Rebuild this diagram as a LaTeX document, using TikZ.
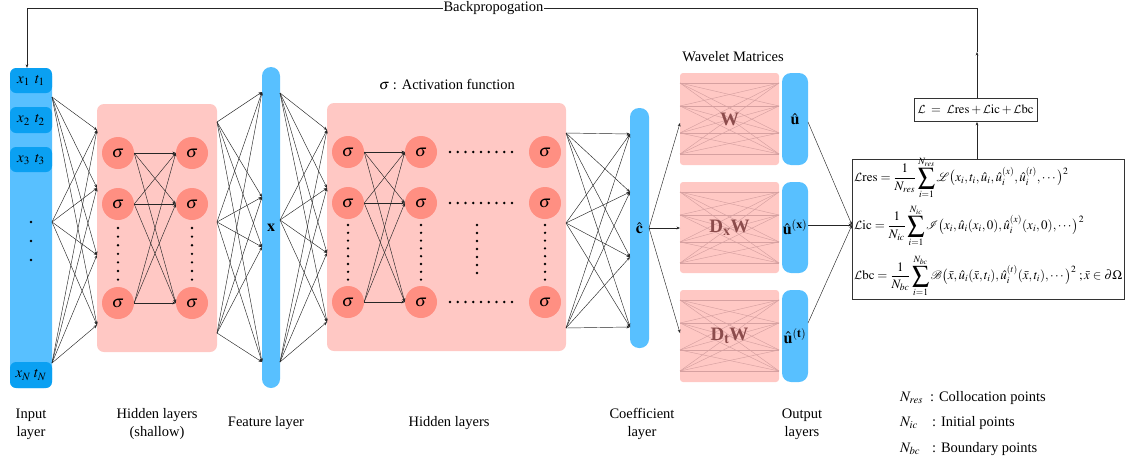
\documentclass[tikz,border=0pt]{standalone}
\usepackage{amsmath,amssymb}
\usepackage{mathptmx}
\usepackage{mathrsfs}
\usepackage[no-math]{fontspec}
\setmainfont{Liberation Serif}
\DeclareMathAlphabet{\mathcalcm}{OMS}{cmsy}{m}{n}
\newcommand{\bigsumlim}[1]{\mathop{\vcenter{\hbox{\scalebox{1.3}{$\displaystyle\sum$}}}}\limits_{i=1}^{#1}}
\usetikzlibrary{arrows.meta}
\definecolor{barblue}{RGB}{88,192,255}
\definecolor{darkblue}{RGB}{10,160,242}
\definecolor{pinkbg}{RGB}{255,200,196}
\definecolor{neuronc}{RGB}{255,143,130}
\definecolor{wtext}{RGB}{140,76,76}
\definecolor{wline}{RGB}{214,160,160}
\tikzset{
  bar/.style={fill=barblue, draw=none, rounded corners=8pt, inner sep=0pt},
  inbox/.style={fill=darkblue, draw=none, rounded corners=6pt, inner sep=0pt, font=\fontsize{15}{15}\selectfont},
  pinkbox/.style={fill=pinkbg, draw=none, rounded corners=7pt, inner sep=0pt},
  neuron/.style={circle, fill=neuronc, draw=none, minimum size=32pt, inner sep=0pt, font=\fontsize{17}{17}\selectfont},
  conn/.style={draw=black!85, line width=0.45pt, -{Stealth[length=3.5pt,width=2.8pt]}},
  plainline/.style={draw=black!85, line width=0.45pt},
  patline/.style={draw=wline, line width=0.45pt},
  lbl/.style={font=\fontsize{14.5}{18}\selectfont, align=center, inner sep=0pt},
  wlbl/.style={text=wtext, font=\fontsize{19}{19}\selectfont\bfseries, inner sep=0pt},
  olbl/.style={font=\fontsize{16}{16}\selectfont, inner sep=0pt},
  eqn/.style={anchor=west, inner sep=0pt, font=\fontsize{13}{15}\selectfont},
  lossbox/.style={draw=black!80, line width=0.9pt, inner sep=0pt},
  legtext/.style={anchor=west, inner sep=0pt, font=\fontsize{14.5}{16}\selectfont},
}
\begin{document}
\begin{tikzpicture}[x=1pt,y=-1pt]
\useasboundingbox (0,0) rectangle (1126,466);

% ---------------- Input layer
\node[bar, minimum width=42pt, minimum height=320pt] (inp) at (31,228) {};
\node[inbox, minimum width=42pt, minimum height=25pt] (in1) at (31,80.5) {$x_1\;\,t_1$};
\node[inbox, minimum width=42pt, minimum height=26pt] (in2) at (31,120) {$x_2\;\,t_2$};
\node[inbox, minimum width=42pt, minimum height=25pt] (in3) at (31,159.5) {$x_3\;\,t_3$};
\node[inbox, minimum width=42pt, minimum height=26pt] (inN) at (31,375) {$x_N\;t_N$};
\foreach \yy in {222,241,260} \fill (31,\yy) circle (1.4pt);

% ---------------- shallow hidden
\node[pinkbox, minimum width=120pt, minimum height=248pt] (sh) at (157,228) {};
\foreach \r/\yy in {1/153,2/204,3/303}{
  \node[neuron] (sa\r) at (118,\yy) {$\sigma$};
  \node[neuron] (sb\r) at (192,\yy) {$\sigma$};
}
\foreach \xx in {118,192}{
  \foreach \k in {0,...,6} \fill (\xx,228+\k*8.6) circle (1.3pt);
}
\foreach \i in {1,2,3}{\foreach \j in {1,2,3}{
  \draw[conn] (sa\i.east) -- (sb\j.west);
}}

% ---------------- feature layer
\node[bar, minimum width=18pt, minimum height=321pt, rounded corners=9pt] (feat) at (271,227.5) {};
\node[olbl] at (feat.center) {$\mathbf{x}$};

% ---------------- big hidden
\node[pinkbox, minimum width=239pt, minimum height=248pt] (hb) at (446.5,227) {};
\foreach \r/\yy in {1/152,2/203,3/302}{
  \node[neuron] (ha\r) at (348,\yy) {$\sigma$};
  \node[neuron] (hc\r) at (421,\yy) {$\sigma$};
  \node[neuron] (hd\r) at (545,\yy) {$\sigma$};
  \foreach \k in {0,...,8} \fill (450+\k*7.75,\yy) circle (1.3pt);
}
\foreach \xx in {348,421,545}{
  \foreach \k in {0,...,7} \fill (\xx,225+\k*7.8) circle (1.3pt);
}
\foreach \k in {0,...,6} \fill (477,225+\k*8) circle (1.3pt);
\foreach \i in {1,2,3}{\foreach \j in {1,2,3}{
  \draw[conn] (ha\i.east) -- (hc\j.west);
}}
\node[lbl] (actlbl) at (447,85) {$\sigma$ : Activation function};

% ---------------- coefficient layer
\node[bar, minimum width=19pt, minimum height=240pt, rounded corners=9pt] (coef) at (639.5,228) {};
\node[olbl] at (coef.center) {$\hat{\mathbf{c}}$};

% ---------------- wavelet matrices + output
\foreach \n/\t/\h in {1/73/92,2/182/91,3/290/92}{
  \node[fill=pinkbg, rounded corners=3pt, inner sep=0pt, minimum width=99pt, minimum height=\h pt] (w\n) at (729.5,\t+\h/2) {};
  \foreach \a in {10,33,60,81}{\foreach \b in {10,33,60,81}{
    \draw[patline] (680,\t+\a) -- (779,\t+\b);
  }}
  \node[bar, minimum width=26pt, minimum height=\h pt, rounded corners=9pt] (o\n) at (795,\t+\h/2) {};
}
\node[wlbl] at (w1.center) {W};
\node[wlbl] at (w2.center) {D$_{\mathbf{x}}$W};
\node[wlbl] at (w3.center) {D$_{\mathbf{t}}$W};
\node[olbl] at (o1.center) {$\hat{\mathbf{u}}$};
\node[olbl] at (o2.center) {$\hat{\mathbf{u}}^{(\mathbf{x})}$};
\node[olbl] at (o3.center) {$\hat{\mathbf{u}}^{(\mathbf{t})}$};
\node[lbl] (wavlbl) at (733,57) {Wavelet Matrices};

% ---------------- connection coordinates
\coordinate (i1) at (52,97);  \coordinate (i2) at (52,222); \coordinate (i3) at (52,363);
\foreach \k/\yy in {1/130,2/188,3/255,4/325} \coordinate (s\k) at (97,\yy);
\coordinate (so1) at (217,122); \coordinate (so2) at (217,222); \coordinate (so3) at (217,333);
\foreach \k/\yy in {1/92,2/197,3/247,4/362} \coordinate (f\k) at (262,\yy);
\coordinate (fo1) at (280,93); \coordinate (fo2) at (280,220); \coordinate (fo3) at (280,362);
\foreach \k/\yy in {1/130,2/188,3/253,4/322} \coordinate (h\k) at (327,\yy);
\coordinate (ho1) at (566,133); \coordinate (ho2) at (566,223); \coordinate (ho3) at (566,328);
\foreach \k/\yy in {1/134,2/192,3/257,4/327} \coordinate (c\k) at (630,\yy);
\coordinate (co) at (649,228);
\coordinate (wi1) at (680,123); \coordinate (wi2) at (680,228); \coordinate (wi3) at (680,333);
\coordinate (oo1) at (808,122); \coordinate (oo2) at (808,225); \coordinate (oo3) at (808,323);

\foreach \i in {1,2,3}{\foreach \j in {1,2,3,4}{
  \draw[conn] (i\i) -- (s\j);
  \draw[conn] (so\i) -- (f\j);
  \draw[conn] (fo\i) -- (h\j);
  \draw[conn] (ho\i) -- (c\j);
}}
\foreach \j in {1,2,3} \draw[conn] (co) -- (wi\j);

% ---------------- loss
\node[lossbox, minimum width=272pt, minimum height=140pt] (loss) at (988,229) {};
\node[lossbox, minimum width=123pt, minimum height=23pt] (ltot) at (975.5,110) {};
\node[inner sep=0pt] at (ltot.center) {\resizebox{116pt}{!}{\fontsize{13}{14}\selectfont$\mathcalcm{L}\;=\;\mathcalcm{L}\mathrm{res}+\mathcalcm{L}\mathrm{ic}+\mathcalcm{L}\mathrm{bc}$}};
\coordinate (lin) at (852,225);
\foreach \j in {1,2,3} \draw[conn] (oo\j) -- (lin);

\node[eqn] (eq1) at (854,178) {$\mathcalcm{L}\mathrm{res}=\dfrac{1}{N_{res}}\bigsumlim{N_{res}}\mathscr{L}\bigl(x_i,t_i,\hat{u}_i,\hat{u}_i^{(x)},\hat{u}_i^{(t)},\cdots\bigr)^2$};
\node[eqn] (eq2) at (854,226) {$\mathcalcm{L}\mathrm{ic}=\dfrac{1}{N_{ic}}\bigsumlim{N_{ic}}\mathscr{I}\bigl(x_i,\hat{u}_i(x_i,0),\hat{u}_i^{(x)}(x_i,0),\cdots\bigr)^2$};
\node[eqn] (eq3) at (854,276) {\resizebox{268pt}{!}{$\mathcalcm{L}\mathrm{bc}=\dfrac{1}{N_{bc}}\bigsumlim{N_{bc}}\mathscr{B}\bigl(\bar{x},\hat{u}_i(\bar{x},t_i),\hat{u}_i^{(t)}(\bar{x},t_i),\cdots\bigr)^2\;;\bar{x}\in\partial\Omega$}};

\coordinate (bpR) at (977,8);
\coordinate (bpL) at (27,8);
\coordinate (bpA) at (977,52);
\draw[conn] (loss.north -| bpR) -- (ltot.south -| bpR);
\draw[conn] (ltot.north -| bpR) -- (bpA);
\draw[plainline] (bpA) -- (bpR) -- node[pos=0.509, fill=white, inner sep=1pt, font=\fontsize{14.5}{16}\selectfont]{Backpropogation} (bpL);
\draw[conn] (bpL) -- (inp.north -| bpL);

% ---------------- legend
\node[legtext] (n1) at (900,398) {$N_{res}$};
\node[legtext] (n2) at (900,423) {$N_{ic}$};
\node[legtext] (n3) at (900,449) {$N_{bc}$};
\node[legtext] (t1) at (930,398) {: Collocation points};
\node[legtext] (t2) at (932,423) {: Initial points};
\node[legtext] (t3) at (932,449) {: Boundary points};

% ---------------- bottom labels
\node[lbl] (b1) at (31,424) {Input\\layer};
\node[lbl] (b2) at (157,424) {Hidden layers\\(shallow)};
\node[lbl] (b3) at (266,423) {Feature layer};
\node[lbl] (b4) at (449,423) {Hidden layers};
\node[lbl] (b5) at (642,424) {Coefficient\\layer};
\node[lbl] (b6) at (802,424) {Output\\layers};
\end{tikzpicture}
\end{document}
